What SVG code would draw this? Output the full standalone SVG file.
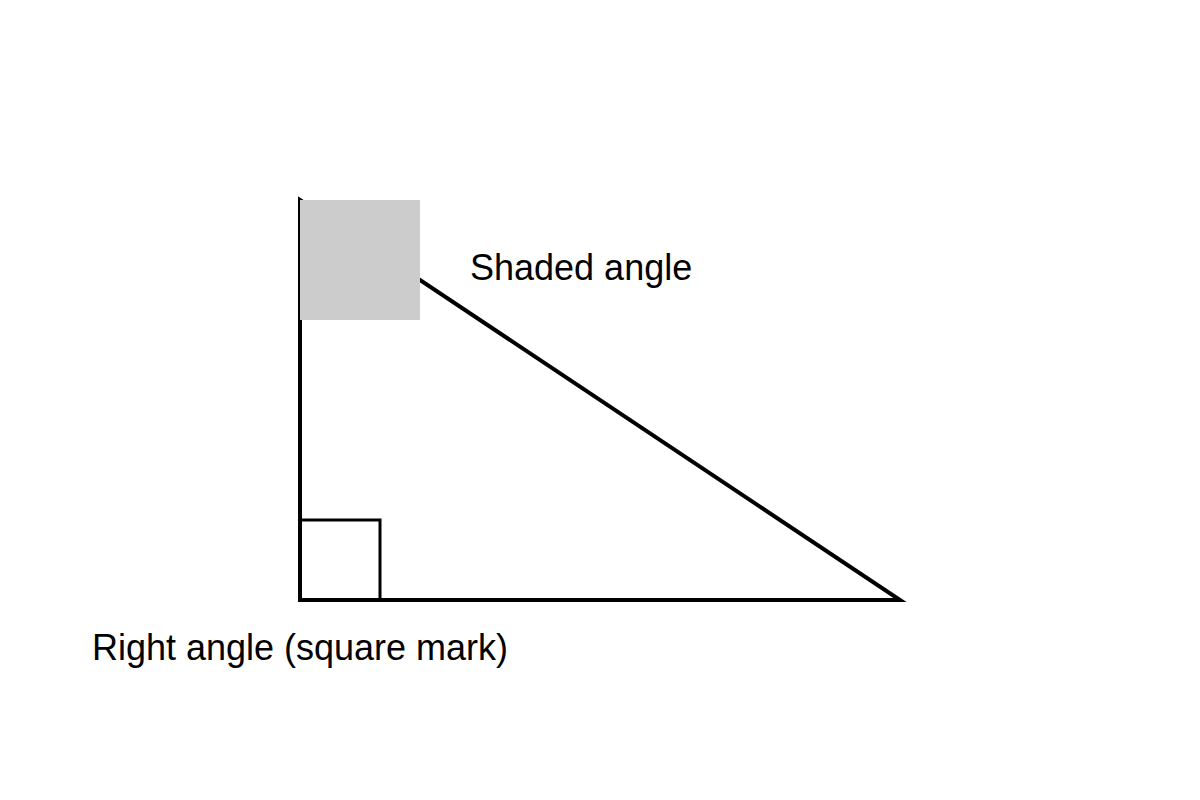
<svg xmlns="http://www.w3.org/2000/svg" width="1200" height="800" viewBox="0 0 1200 800">
<style>
.lbl{font-family:"Liberation Sans",Arial,sans-serif;font-size:36px;fill:#000}
.edge{fill:none;stroke:#000;stroke-width:4}
</style>
<rect width="1200" height="800" fill="#fff"/>
<g id="connectors">
<polygon class="edge" points="300,200 300,600 900,600"/>
</g>
<g id="shaded-angle">
<rect x="300" y="200" width="120" height="120" fill="#ccc"/>
<text class="lbl" x="470" y="280">Shaded angle</text>
</g>
<g id="right-angle">
<rect x="300" y="520" width="80" height="80" fill="none" stroke="#000" stroke-width="3"/>
<text class="lbl" x="300" y="660" text-anchor="middle">Right angle (square mark)</text>
</g>
</svg>
